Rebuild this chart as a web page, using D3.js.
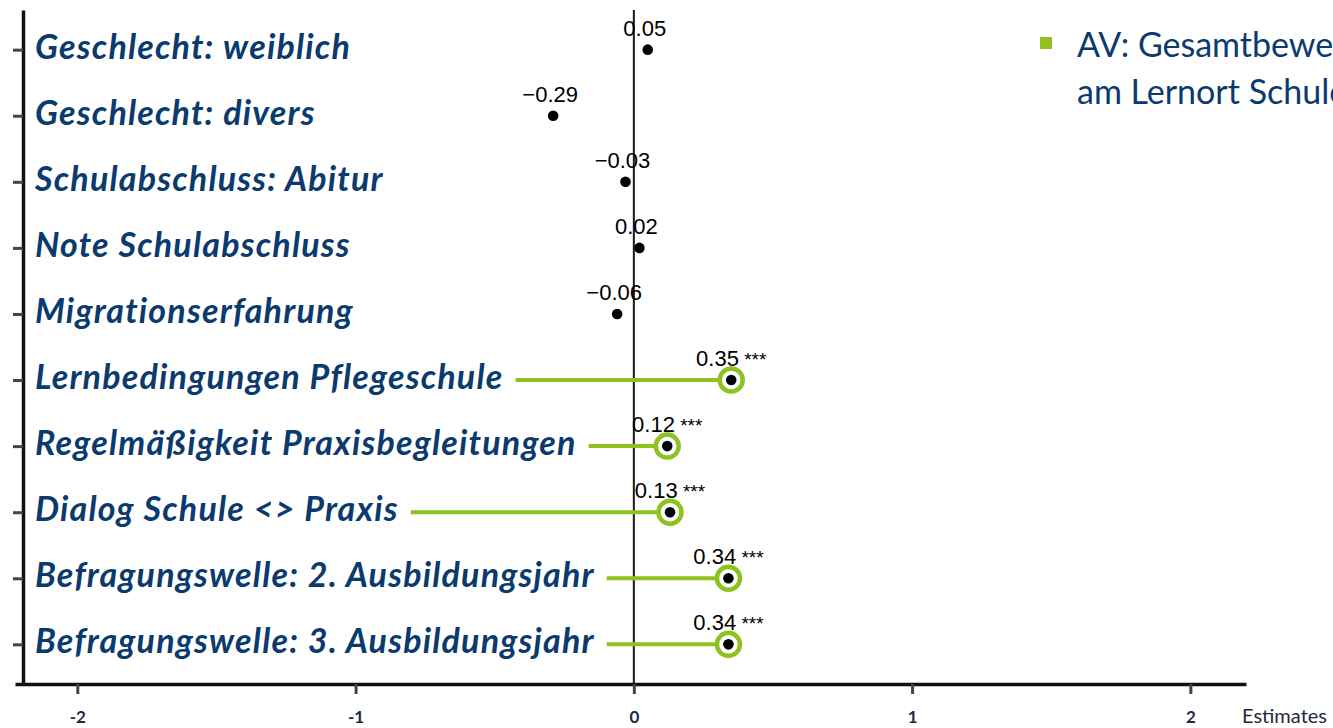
<!DOCTYPE html>
<html>
<head>
<meta charset="utf-8">
<script src="https://cdn.jsdelivr.net/npm/d3@7"></script>
<style>
  html, body { margin: 0; padding: 0; background: #fff; overflow: hidden; }
  svg { display: block; }
</style>
</head>
<body>
<svg id="chart" width="1333" height="728"></svg>
<script>
// ---- data ----
const terms = [
  "Geschlecht: weiblich",
  "Geschlecht: divers",
  "Schulabschluss: Abitur",
  "Note Schulabschluss",
  "Migrationserfahrung",
  "Lernbedingungen Pflegeschule",
  "Regelmäßigkeit Praxisbegleitungen",
  "Dialog Schule <> Praxis",
  "Befragungswelle: 2. Ausbildungsjahr",
  "Befragungswelle: 3. Ausbildungsjahr"
];
const estimates = [0.05, -0.29, -0.03, 0.02, -0.06, 0.35, 0.12, 0.13, 0.34, 0.34];
const stars = ["", "", "", "", "", "***", "***", "***", "***", "***"];
const xTicks = [-2, -1, 0, 1, 2];
const xDomain = [-2.224, 2.2];
const axisTitle = "Estimates";
const legendLines = ["AV: Gesamtbewertung", "am Lernort Schule"];

// ---- styles ----
const navy = "#0a3a6e";
const green = "#8dc21f";
const svg = d3.select("#chart");

const x = d3.scaleLinear().domain(xDomain).range([15, 1246]);
const y = d3.scalePoint().domain(terms).range([10, 684]).padding(0.6);

// zero line
svg.append("line")
  .attr("x1", x(0)).attr("x2", x(0))
  .attr("y1", 10).attr("y2", 684)
  .attr("stroke", "#1a1a1a").attr("stroke-width", 2);

// bottom axis
const xAxis = d3.axisBottom(x).tickValues(xTicks).tickSizeInner(10).tickSizeOuter(0).tickFormat(d3.format("d"));
const gx = svg.append("g").attr("transform", "translate(0,684)").call(xAxis);
gx.select(".domain").attr("stroke", "#111").attr("stroke-width", 3.5);
gx.selectAll(".tick line").attr("stroke", "#444").attr("stroke-width", 3);
gx.selectAll(".tick text")
  .text(d => d < 0 ? "-" + Math.abs(d) : String(d))
  .attr("y", 39).attr("dy", 0)
  .attr("fill", "#1b2b45")
  .style("font-family", "Lato, 'Open Sans', sans-serif")
  .style("font-weight", "700")
  .style("font-size", "17px");

// left axis
const yAxis = d3.axisLeft(y).tickSizeInner(10).tickSizeOuter(0).tickFormat("");
const gy = svg.append("g").attr("transform", "translate(23,0)").call(yAxis);
gy.select(".domain").attr("stroke", "#111").attr("stroke-width", 3.5);
gy.selectAll(".tick line").attr("stroke", "#444").attr("stroke-width", 3);

// axis title
svg.append("text")
  .attr("x", 1242).attr("y", 723)
  .attr("fill", "#1e2a40")
  .style("font-family", "Lato, 'Open Sans', sans-serif")
  .style("font-size", "20px")
  .text(axisTitle);

// term labels
const rows = terms.map((t, i) => ({ term: t, est: estimates[i], sig: stars[i] }));
const labels = svg.append("g").selectAll("text").data(rows).join("text")
  .attr("x", 35)
  .attr("y", d => y(d.term) + 9)
  .attr("fill", navy)
  .style("font-family", "Lato, 'Open Sans', sans-serif")
  .style("font-weight", "700")
  .style("font-style", "italic")
  .style("font-size", "34px")
  .style("letter-spacing", "1.2px")
  .text(d => d.term);

const ends = [];
labels.each(function (d, i) { ends[i] = 35 + this.getComputedTextLength(); });

const R = 11.5;
// connector lines for significant rows
svg.append("g").selectAll("line").data(rows.filter(d => d.sig)).join("line")
  .attr("x1", d => ends[terms.indexOf(d.term)] + 12)
  .attr("x2", d => x(d.est) - R)
  .attr("y1", d => y(d.term)).attr("y2", d => y(d.term))
  .attr("stroke", green).attr("stroke-width", 4);

// highlight rings
svg.append("g").selectAll("circle").data(rows.filter(d => d.sig)).join("circle")
  .attr("cx", d => x(d.est)).attr("cy", d => y(d.term))
  .attr("r", R)
  .attr("fill", "#fff").attr("stroke", green).attr("stroke-width", 4.5);

// points
svg.append("g").selectAll("circle").data(rows).join("circle")
  .attr("cx", d => x(d.est)).attr("cy", d => y(d.term))
  .attr("r", 5.3).attr("fill", "#000");

// value labels
const fmt = d3.format(".2f");
const vl = svg.append("g").selectAll("text").data(rows).join("text")
  .attr("x", d => d.sig ? x(d.est) : x(d.est) - 3)
  .attr("y", d => y(d.term) - 14)
  .attr("text-anchor", "middle")
  .attr("fill", "#000")
  .style("font-family", "'Liberation Sans', Arial, sans-serif")
  .style("font-size", "22px");
vl.append("tspan").text(d => fmt(d.est));
vl.filter(d => d.sig).append("tspan")
  .style("font-size", "19px")
  .text(d => " " + d.sig);

// legend
svg.append("rect")
  .attr("x", 1040).attr("y", 37).attr("width", 12).attr("height", 12)
  .attr("fill", "#93c01f");
svg.append("g").selectAll("text").data(legendLines).join("text")
  .attr("x", 1077)
  .attr("y", (d, i) => 57 + i * 47)
  .attr("fill", navy)
  .style("font-family", "Lato, 'Open Sans', sans-serif")
  .style("font-size", "34px")
  .text(d => d);
</script>
</body>
</html>
